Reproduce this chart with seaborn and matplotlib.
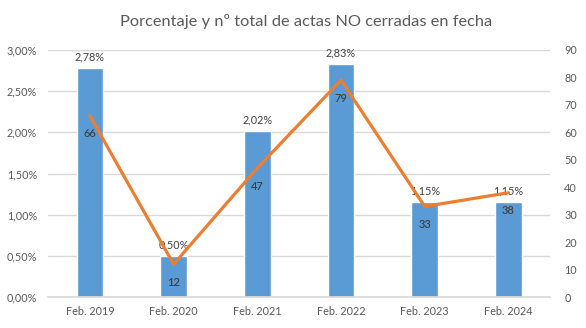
import matplotlib
matplotlib.use("Agg")
import matplotlib.pyplot as plt
import seaborn as sns
import pandas as pd
from matplotlib.ticker import FuncFormatter, MultipleLocator

# Data
categories = ["Feb. 2019", "Feb. 2020", "Feb. 2021", "Feb. 2022", "Feb. 2023", "Feb. 2024"]
pct_open = [2.78, 0.50, 2.02, 2.83, 1.15, 1.15]   # % of records not closed on time
n_open = [66, 12, 47, 79, 33, 38]                  # number of records not closed on time

df = pd.DataFrame({"cat": categories, "pct": pct_open, "n": n_open})

sns.set_theme(style="white")
plt.rcParams["font.family"] = ["Lato", "DejaVu Sans"]

BAR = "#5B9BD5"
LINE = "#ED7D31"
GRID = "#D9D9D9"
TXT = "#595959"

fig = plt.figure(figsize=(5.86, 3.28), dpi=100)
ax = fig.add_axes([0.082, 0.094, 0.857, 0.754])

sns.barplot(data=df, x="cat", y="pct", color=BAR, width=0.32, saturation=1, ax=ax, zorder=2)
ax.set_ylim(0, 3.0)
ax.set_xlim(-0.5, len(categories) - 0.5)
ax.yaxis.set_major_locator(MultipleLocator(0.5))
ax.yaxis.set_major_formatter(FuncFormatter(lambda v, _: f"{v:.2f}%".replace(".", ",")))
ax.grid(axis="y", color=GRID, linewidth=1, zorder=0)
ax.set_axisbelow(True)
ax.set_xlabel("")
ax.set_ylabel("")
for s in ["top", "right", "left"]:
    ax.spines[s].set_visible(False)
ax.spines["bottom"].set_color(GRID)
ax.tick_params(axis="both", length=0, labelsize=7.8, labelcolor=TXT, pad=8)
ax.tick_params(axis="x", pad=6)

for i, v in enumerate(pct_open):
    ax.annotate(f"{v:.2f}%".replace(".", ","), (i, v), xytext=(0, 4),
                textcoords="offset points", ha="center", va="bottom",
                fontsize=7.8, color="#404040")

ax2 = ax.twinx()
sns.lineplot(data=df, x="cat", y="n", color=LINE, linewidth=2.3, ax=ax2, sort=False)
ax2.set_ylim(0, 90)
ax2.yaxis.set_major_locator(MultipleLocator(10))
ax2.set_ylabel("")
for s in ["top", "right", "left", "bottom"]:
    ax2.spines[s].set_visible(False)
ax2.tick_params(axis="y", length=0, labelsize=7.8, labelcolor=TXT, pad=10)

for i, v in enumerate(n_open):
    ax2.annotate(str(v), (i, v), xytext=(0, -9), textcoords="offset points",
                 ha="center", va="top", fontsize=8, fontweight="semibold",
                 color="#404040")

fig.text(0.523, 0.935, "Porcentaje y nº total de actas NO cerradas en fecha",
         ha="center", va="center", fontsize=11.8, color=TXT)

fig.savefig("out.png", dpi=100, facecolor="white")
